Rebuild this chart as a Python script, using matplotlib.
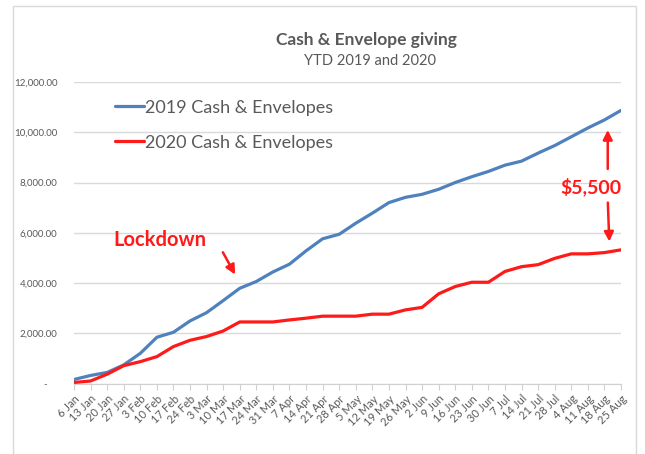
import matplotlib
matplotlib.use('Agg')
import matplotlib.pyplot as plt
from matplotlib.patches import Rectangle
from matplotlib.ticker import FuncFormatter

weeks = ['6 Jan', '13 Jan', '20 Jan', '27 Jan', '3 Feb', '10 Feb', '17 Feb', '24 Feb',
         '3 Mar', '10 Mar', '17 Mar', '24 Mar', '31 Mar', '7 Apr', '14 Apr', '21 Apr',
         '28 Apr', '5 May', '12 May', '19 May', '26 May', '2 Jun', '9 Jun', '16 Jun',
         '23 Jun', '30 Jun', '7 Jul', '14 Jul', '21 Jul', '28 Jul', '4 Aug', '11 Aug',
         '18 Aug', '25 Aug']

cash_2019 = [160, 320, 440, 740, 1200, 1840, 2040, 2490, 2820, 3300, 3790, 4060,
             4440, 4750, 5280, 5760, 5940, 6380, 6780, 7200, 7410, 7530, 7730, 8000,
             8230, 8440, 8690, 8850, 9170, 9470, 9820, 10170, 10490, 10870]
cash_2020 = [40, 100, 370, 710, 870, 1070, 1470, 1720, 1870, 2090, 2450, 2450,
             2450, 2530, 2600, 2680, 2680, 2680, 2760, 2760, 2930, 3030, 3570, 3860,
             4030, 4030, 4460, 4650, 4730, 4980, 5160, 5160, 5210, 5320]

y_ticks = [0, 2000, 4000, 6000, 8000, 10000, 12000]

plt.rcParams['font.family'] = ['Lato', 'DejaVu Sans']
grey = '#595959'
blue = '#4F81BD'
red = '#FF1A1A'

fig = plt.figure(figsize=(6.45, 4.54), dpi=100)
W, H = 645, 454

# chart frame like the Excel chart area
fig.patches.append(Rectangle((13 / W, -0.01), (636 - 13) / W, 1 - 6 / H + 0.01,
                             transform=fig.transFigure, fill=False,
                             edgecolor='#d9d9d9', linewidth=1.0))

ax = fig.add_axes([74 / W, 1 - 383.5 / H, (621 - 74) / W, (383.5 - 82) / H])
x = list(range(len(weeks)))
ax.plot(x, cash_2019, color=blue, linewidth=2.3, solid_capstyle='round',
        label='2019 Cash & Envelopes')
ax.plot(x, cash_2020, color=red, linewidth=2.3, solid_capstyle='round',
        label='2020 Cash & Envelopes')

ax.set_xlim(0, len(weeks) - 1)
ax.set_ylim(0, 12000)
ax.set_yticks(y_ticks)
ax.yaxis.set_major_formatter(FuncFormatter(
    lambda v, p: '-    ' if v == 0 else f'{v:,.2f}'))
ax.set_xticks(x)
ax.set_xticklabels(weeks, rotation=45, ha='right', rotation_mode='anchor')
ax.tick_params(axis='y', length=0, labelsize=7, labelcolor=grey, pad=12)
ax.tick_params(axis='x', length=4, color='#d0d0d0', labelsize=8,
               labelcolor=grey, pad=3)
ax.grid(axis='y', color='#d9d9d9', linewidth=1)
ax.set_axisbelow(True)
for s in ['top', 'right', 'left']:
    ax.spines[s].set_visible(False)
ax.spines['bottom'].set_color('#d0d0d0')

leg = ax.legend(loc='upper left', bbox_to_anchor=(0.045, 0.995), frameon=False,
                fontsize=13, handlelength=1.6, handletextpad=0.05,
                labelspacing=1.05, labelcolor=grey)

fig.text(366 / W, 1 - 40 / H, 'Cash & Envelope giving', ha='center', va='center',
         fontsize=12.5, fontweight='bold', color=grey)
fig.text(370 / W, 1 - 61 / H, 'YTD 2019 and 2020', ha='center', va='center',
         fontsize=10.5, color=grey)

ax.text(5.2, 5720, 'Lockdown', color=red, fontsize=14.5, fontweight='bold',
        ha='center', va='center')
ax.annotate('', xy=(9.8, 4240), xytext=(8.9, 5320),
            arrowprops=dict(arrowstyle='-|>', color=red, lw=1.8, mutation_scale=14))

ax.text(31.2, 7830, '$5,500', color=red, fontsize=14, fontweight='bold',
        ha='center', va='center')
ax.annotate('', xy=(32.2, 10200), xytext=(32.2, 8430),
            arrowprops=dict(arrowstyle='-|>', color=red, lw=1.8, mutation_scale=14))
ax.annotate('', xy=(32.3, 5540), xytext=(32.2, 7310),
            arrowprops=dict(arrowstyle='-|>', color=red, lw=1.8, mutation_scale=14))

fig.savefig('out.png', dpi=100)
